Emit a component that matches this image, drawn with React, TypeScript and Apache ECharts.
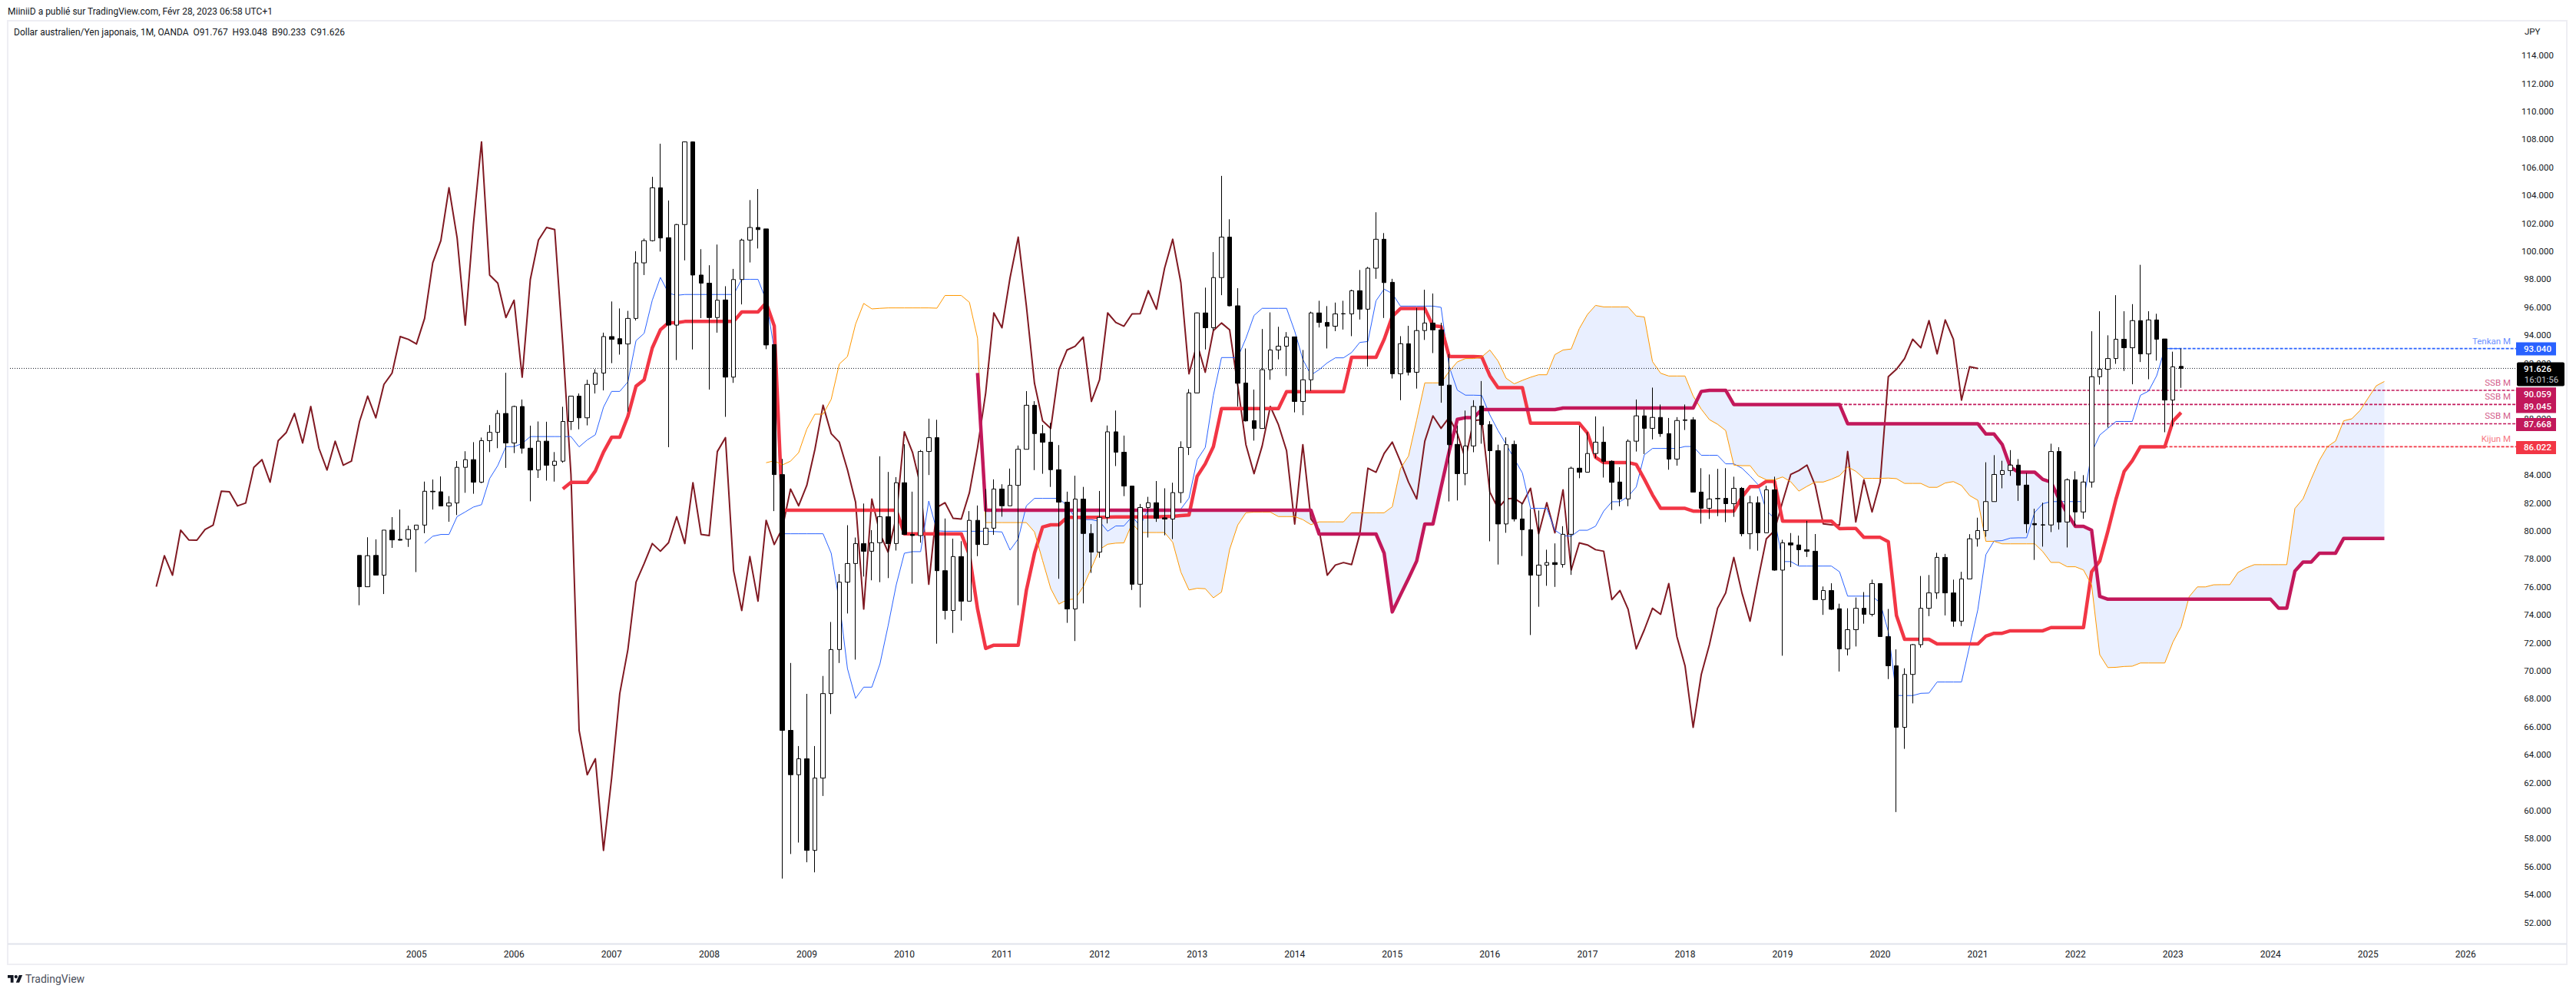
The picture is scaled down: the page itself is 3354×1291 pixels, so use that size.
import React, { useEffect, useRef } from "react";
import * as echarts from "echarts";

const FONT = "Roboto, 'Open Sans', sans-serif";
const TEXT = "#131722";

const headerText = "MiiniiD a publié sur TradingView.com, Févr 28, 2023 06:58 UTC+1";
const legendText = "Dollar australien/Yen japonais, 1M, OANDA  O91.767  H93.048  B90.233  C91.626";
const currencyText = "JPY";
const brandText = "TradingView";

// x is a month index: 0 = January 2005. Rows are [open, high, low, close].
const firstBar = -7;
const bars2004to2008: number[][] = [
  [78.25,78.25,74.69,76.01],[76.01,79.55,76.0,78.23],[78.25,79.4,76.84,76.84],[76.84,80.06,75.49,80.06],[80.06,80.99,78.79,79.36],
  [79.4,81.53,79.32,79.34],[79.41,80.38,78.86,80.1],[80.1,80.42,77.06,80.42],[80.42,83.53,79.84,82.84],[82.84,83.68,81.53,82.8],
  [82.8,83.9,81.79,81.79],[81.79,82.49,80.66,82.0],[82.0,85.0,81.14,84.55],[84.55,85.7,82.73,85.1],[85.1,86.35,82.66,83.49],
  [83.49,86.68,83.42,86.46],[86.46,87.57,85.64,87.05],[87.05,88.64,85.92,88.4],[88.4,91.31,84.51,86.29],[86.29,88.96,85.57,88.9],
  [88.9,89.4,85.53,85.92],[85.92,87.53,82.12,84.36],[84.36,87.83,83.79,86.42],[86.42,87.81,83.6,84.7],[84.7,85.64,83.53,84.99],
  [84.99,88.88,84.88,87.83],[87.83,89.64,87.22,89.64],[89.64,89.83,87.27,88.09],[88.09,90.81,87.55,90.48],[90.48,91.57,89.83,91.29],
  [91.29,94.18,90.05,93.9],[93.9,96.41,92.0,93.7],[93.75,95.91,92.61,93.37],[93.37,95.74,88.53,95.2],[95.2,100.0,95.05,99.17],
  [99.17,100.91,98.3,100.76],[100.76,105.32,100.7,104.54],[104.54,107.69,99.98,100.95],[100.97,103.63,85.99,94.72],[94.72,101.95,92.22,101.91],
  [101.91,107.85,99.35,107.82],[107.82,107.85,92.98,98.3],[98.3,100.15,95.22,97.72],[97.72,99.0,90.11,95.26],[95.26,100.48,94.18,96.5],
  [96.52,97.5,88.16,91.0],[91.0,98.74,90.59,97.98],
];
const bars2008to2012: number[][] = [
  [97.98,100.9,96.2,100.8],[100.8,103.66,99.2,101.7],[101.7,104.45,100.2,101.55],[101.6,101.6,93.0,93.3],[93.33,93.33,81.42,84.03],
  [84.03,85.15,55.14,65.74],[65.74,70.56,56.9,62.57],[62.57,64.62,57.72,63.71],[63.71,68.35,56.31,57.16],[57.16,64.62,55.59,62.33],
  [62.33,69.63,61.05,68.37],[68.37,73.49,66.91,71.52],[71.52,76.92,70.56,76.34],[76.34,80.41,74.1,77.67],[77.67,79.53,70.8,79.1],
  [79.1,81.96,76.74,78.55],[78.55,80.06,76.47,79.16],[79.16,85.34,76.34,81.02],[81.02,84.22,76.63,79.1],[79.1,83.85,78.6,83.45],
  [83.45,86.2,79.75,79.75],[79.75,82.81,76.23,79.67],[79.67,85.79,79.16,85.68],[85.68,88.03,84.0,86.67],[86.67,87.95,71.94,77.16],
  [77.16,80.89,73.67,74.31],[74.31,79.45,72.71,78.17],[78.17,79.27,73.59,74.98],[74.98,81.42,74.98,80.76],[80.76,81.82,78.2,79.03],
  [79.03,83.0,79.03,80.2],[80.2,83.69,79.72,83.0],[83.0,83.34,81.02,81.8],[81.8,84.46,81.8,83.26],[83.26,86.11,74.69,85.84],
  [85.84,90.0,85.84,88.99],[88.99,89.28,84.35,86.96],[86.96,87.58,84.09,86.35],[86.35,87.73,83.15,84.38],[84.38,86.14,76.58,82.06],
  [82.06,82.81,73.43,74.42],[74.42,83.95,72.13,82.28],[82.28,83.15,74.82,79.82],[79.82,80.49,77.0,78.49],[78.49,82.86,78.09,80.97],
];
const bars2012to2016: number[][] = [
  [80.97,87.54,80.54,87.09],[87.09,88.61,84.64,85.63],[85.63,86.82,82.49,83.21],[83.21,83.21,75.78,76.19],[76.19,81.93,74.53,81.68],
  [81.68,82.44,79.53,82.02],[82.02,83.57,80.65,80.9],[80.94,83.05,79.69,80.85],[80.85,83.45,79.42,82.74],[82.74,86.41,82.0,85.97],
  [85.97,90.14,85.43,89.87],[89.87,95.63,89.87,95.59],[95.59,97.4,92.98,94.53],[94.53,99.94,94.33,98.12],[98.12,105.39,96.86,101.01],
  [101.01,102.29,96.06,96.1],[96.1,97.36,88.9,90.56],[90.58,93.05,87.83,87.87],[87.89,90.11,86.46,87.33],[87.33,94.44,87.33,91.53],
  [91.53,95.63,90.81,92.94],[92.94,94.6,92.27,93.21],[93.21,94.22,91.08,93.86],[93.88,93.88,88.48,89.26],[89.26,92.94,88.28,90.81],
  [90.81,95.68,90.02,95.59],[95.59,96.46,94.55,94.91],[94.91,96.08,93.05,94.64],[94.64,96.33,94.29,95.52],[95.52,96.46,94.4,95.54],
  [95.52,97.25,93.93,97.18],[97.18,98.66,95.12,95.86],[95.86,98.88,91.75,98.79],[98.79,102.79,98.03,100.86],[100.86,101.3,95.23,97.76],
  [97.78,98.03,90.9,91.24],[91.24,93.93,89.35,93.39],[93.39,94.67,91.12,91.35],[91.35,95.95,90.18,94.33],[94.33,97.25,93.66,94.87],
  [94.87,96.98,92.72,94.38],[94.38,94.89,89.17,90.41],[90.43,92.65,82.11,86.17],[86.19,87.54,82.18,84.1],[84.1,88.61,83.27,86.08],
];
const bars2016to2020: number[][] = [
  [86.08,89.35,85.63,88.9],[88.93,90.72,86.24,87.6],[87.6,87.85,79.26,85.74],[85.74,86.17,77.6,80.5],[80.5,86.69,79.87,86.17],
  [86.19,86.46,80.68,80.86],[80.86,82.02,78.21,80.09],[80.09,81.57,72.56,76.84],[76.84,81.46,74.58,77.56],[77.56,78.66,76.08,77.74],
  [77.74,79.11,76.0,77.6],[77.6,80.34,77.38,79.76],[79.76,84.6,76.86,84.49],[84.49,87.52,83.77,84.2],[84.2,87.07,84.2,85.54],
  [85.54,88.19,85.21,86.35],[86.35,87.47,83.82,84.98],[84.98,85.05,81.5,83.48],[83.5,84.56,81.77,82.29],[82.29,86.55,81.77,86.42],
  [86.42,89.4,85.68,88.23],[88.23,88.68,85.5,87.34],[87.34,90.25,86.55,88.12],[88.12,89.04,86.73,86.96],[86.96,88.08,84.38,85.14],
  [85.14,88.14,84.67,87.9],[87.9,89.04,87.22,87.95],[87.95,88.14,82.78,82.78],[82.78,84.49,80.52,81.62],[81.62,84.04,80.86,82.29],
  [82.3,84.44,81.06,82.33],[82.33,84.49,80.63,81.95],[81.95,83.88,81.01,83.05],[83.05,83.14,79.62,79.8],[79.8,82.51,78.7,82.02],
  [82.02,82.47,78.59,79.87],[79.87,83.23,79.87,82.94],[82.94,83.88,77.16,77.2],[77.2,79.37,71.08,79.15],[79.15,79.85,77.42,79.0],
  [79.0,79.67,77.54,78.66],[78.66,80.72,78.14,78.55],[78.55,79.78,75.09,75.09],[75.09,76.03,74.0,75.74],[75.74,76.26,74.35,74.4],
];
const bars2019to2023: number[][] = [
  [74.44,74.8,69.95,71.57],[71.56,74.47,71.1,72.94],[72.94,75.24,71.74,74.47],[74.47,75.63,73.37,74.04],[74.04,76.52,73.89,76.24],
  [76.24,76.24,72.45,72.45],[72.45,74.42,69.41,70.36],[70.36,71.53,59.9,65.96],[65.96,70.18,64.42,69.74],[69.74,71.92,67.67,71.87],
  [71.87,76.78,71.66,74.47],[74.47,76.85,73.91,75.57],[75.57,78.44,75.14,78.11],[78.11,78.36,73.96,75.57],[75.57,76.52,73.15,73.55],
  [73.55,77.08,73.2,76.57],[76.57,79.77,76.57,79.44],[79.44,80.95,78.88,80.03],[80.03,84.91,79.59,82.1],[82.1,85.42,82.1,84.04],
  [84.04,85.02,83.05,84.32],[84.32,85.78,83.94,84.71],[84.71,85.14,82.15,83.28],[83.28,84.14,79.85,80.51],[80.53,81.59,77.93,80.44],
  [80.44,82.02,78.88,80.43],[80.43,86.24,79.92,85.68],[85.68,85.99,80.1,80.64],[80.64,83.76,78.82,83.66],[83.66,84.27,80.36,81.36],
  [81.36,83.99,80.87,83.5],[83.5,94.28,83.1,91.03],[91.03,95.71,90.46,91.56],[91.56,93.99,87.39,92.33],[92.33,96.86,91.95,93.71],
  [93.71,95.71,91.44,93.1],[93.1,96.22,90.49,95.04],[95.04,99.03,92.08,92.66],[92.66,95.71,90.85,95.09],[95.09,95.53,92.18,93.71],
  [93.73,93.73,87.06,89.36],[89.36,92.82,87.47,91.74],[91.767,93.048,90.233,91.626],
];

const firstTenkan = 1;
const tenkan = [
  79.12,79.62,79.75,79.75,81.03,81.36,81.71,81.88,83.75,84.68,
  86.03,86.03,86.25,86.75,86.75,86.75,86.75,86.75,86.75,86.01,
  86.51,86.88,88.85,89.98,89.98,90.66,93.61,94.13,96.5,98.13,
  97.0,96.85,96.91,96.91,96.91,96.91,96.91,96.91,96.91,97.99,
  97.99,97.99,96.5,93.0,79.8,79.8,79.8,79.8,79.8,79.8,
  78.41,74.95,70.16,68.03,68.83,68.83,70.5,73.22,76.15,78.41,
  78.52,78.52,82.14,80.01,79.98,79.98,79.98,79.98,79.98,79.98,
  79.96,79.93,78.63,79.43,81.8,82.33,82.33,82.33,82.33,81.8,
  80.95,80.81,80.81,80.68,79.98,80.36,80.36,81.02,80.37,81.57,
  81.57,81.57,81.57,81.57,82.35,85.09,85.97,89.7,92.4,92.4,
  92.4,93.77,95.41,95.92,95.92,95.92,95.92,94.29,92.27,91.15,
  91.53,92.02,92.38,92.38,92.76,93.48,93.55,96.46,97.29,96.98,
  96.08,96.08,96.08,96.08,96.08,95.99,91.75,90.07,89.71,89.71,
  89.69,88.3,87.18,86.2,85.16,84.15,81.62,81.62,81.62,80.05,
  79.67,79.62,80.05,80.05,80.34,81.42,82.09,82.09,82.47,83.14,
  85.45,85.9,85.9,85.9,85.9,86.04,86.04,85.41,85.41,85.41,
  84.8,84.8,84.49,83.93,83.3,81.46,80.9,77.81,77.81,77.49,
  77.49,77.49,77.49,77.49,77.08,75.34,75.34,75.34,75.34,74.86,
  72.8,68.24,68.23,68.23,68.39,68.41,69.2,69.2,69.2,69.2,
  71.79,74.35,78.31,79.28,79.31,79.49,79.51,79.51,81.33,81.95,
  82.1,82.1,82.1,82.1,82.1,85.6,86.86,87.34,87.83,87.83,
  87.83,89.7,90.0,91.1,93.04,93.04,93.04,
];

const firstKijun = 18;
const kijun = [
  83.01,83.47,83.47,
  83.47,84.29,85.64,86.7,86.7,88.2,90.35,90.81,93.09,94.39,
  94.89,94.89,94.98,94.98,94.98,94.98,94.98,94.98,94.98,95.66,
  95.66,95.66,96.32,94.66,81.48,81.48,81.48,81.48,81.48,81.48,
  81.48,81.48,81.48,81.48,81.48,81.48,81.48,81.48,81.48,79.8,
  79.8,79.8,79.8,79.8,79.8,79.8,79.8,78.28,74.42,71.6,
  71.83,71.83,71.83,71.83,75.75,78.41,80.28,80.44,80.44,80.97,
  80.97,80.97,80.97,80.97,80.99,81.0,81.0,81.0,81.0,81.0,
  81.0,81.03,81.05,81.1,81.14,83.9,84.8,86.03,88.75,88.75,
  88.75,88.75,88.75,88.75,88.75,88.75,89.96,89.96,89.96,89.96,
  89.96,89.96,89.96,89.96,92.42,92.42,92.42,92.42,93.7,95.34,
  95.9,95.9,95.9,95.9,94.67,94.62,92.47,92.47,92.47,92.47,
  92.45,91.1,90.25,90.25,90.25,90.25,87.7,87.7,87.7,87.7,
  87.7,87.7,87.7,87.0,85.27,84.89,84.89,84.89,84.89,84.76,
  83.7,82.58,81.62,81.62,81.62,81.62,81.42,81.42,81.42,81.42,
  81.42,81.42,82.43,83.17,83.17,83.55,83.55,80.7,80.7,80.7,
  80.7,80.7,80.7,80.7,80.17,80.18,80.18,79.54,79.54,79.54,
  79.23,73.96,72.25,72.25,72.25,72.25,71.92,71.92,71.92,71.92,
  71.92,71.92,72.48,72.68,72.68,72.86,72.86,72.86,72.86,72.86,
  73.09,73.09,73.09,73.09,73.09,77.08,77.85,79.98,82.28,84.25,
  85.02,86.02,86.022,86.022,86.022,87.85,88.47,
];

const firstSpanA = 43;
const spanA = [
  84.88,85.02,84.72,84.99,85.6,87.28,88.35,88.35,
  89.41,91.94,92.47,94.79,96.27,95.88,95.92,95.95,95.95,95.95,
  95.95,95.95,95.95,95.93,96.84,96.84,96.84,96.35,93.78,80.6,
  80.6,80.6,80.6,80.6,80.6,79.93,77.88,75.88,74.77,75.08,
  75.14,76.02,77.35,78.68,79.05,79.13,79.15,80.54,79.89,79.89,
  79.89,79.89,79.19,77.06,75.78,75.9,75.87,75.22,75.63,78.68,
  80.43,81.3,81.35,81.35,81.35,81.03,81.03,81.03,80.81,80.45,
  80.65,80.65,80.65,80.65,81.3,81.3,81.3,81.3,81.3,81.73,
  84.46,85.36,87.94,90.59,90.59,90.59,91.41,92.09,92.33,92.33,
  92.45,92.94,92.16,90.92,90.52,90.77,90.99,91.17,91.17,92.61,
  92.94,93.01,94.47,95.48,96.13,96.02,96.02,96.02,96.02,95.37,
  95.3,92.11,91.28,91.08,91.08,91.08,89.65,88.71,87.96,87.63,
  87.18,84.71,84.67,84.67,83.93,83.66,83.66,83.86,83.52,82.85,
  83.19,83.5,83.5,83.7,83.95,84.58,84.27,83.76,83.76,83.76,
  83.78,83.74,83.4,83.4,83.4,83.12,83.12,83.43,83.53,83.25,
  82.53,82.2,79.26,79.26,79.08,79.08,79.08,79.08,79.08,78.52,
  77.75,77.75,77.44,77.44,77.21,76.14,71.15,70.23,70.25,70.31,
  70.33,70.56,70.56,70.56,70.56,72.05,73.15,75.3,76.0,76.0,
  76.15,76.16,76.16,77.03,77.36,77.59,77.59,77.59,77.59,77.59,
  81.61,82.3,83.71,85.04,86.03,86.43,87.88,88.02,88.61,89.5,90.38,90.69,
];

const firstSpanB = 69;
const spanB = [
  91.3,
  81.48,81.48,81.48,81.48,81.48,81.48,81.48,81.48,81.48,81.48,81.48,81.48,81.48,81.48,
  81.48,81.48,81.48,81.48,81.48,81.48,81.48,81.48,81.48,81.48,81.48,81.48,81.48,81.48,
  81.48,81.48,81.48,81.48,81.48,81.48,81.48,81.48,81.48,81.48,81.48,81.48,81.48,
  79.78,79.78,79.78,79.78,79.78,79.78,79.78,79.78,
  78.41,74.21,75.42,76.61,77.85,80.49,80.49,83.12,85.7,87.98,88.1,88.1,
  88.68,88.68,88.68,88.68,88.68,88.68,88.68,88.68,88.68,88.68,
  88.79,88.79,88.79,88.79,88.79,88.79,88.79,88.79,88.79,88.79,88.79,88.79,88.79,88.79,88.79,88.79,88.79,
  89.98,90.059,90.059,90.059,
  89.045,89.045,89.045,89.045,89.045,89.045,89.045,89.045,89.045,89.045,89.045,89.045,89.045,89.045,
  87.668,87.668,87.668,87.668,87.668,87.668,87.668,87.668,87.668,87.668,87.668,87.668,87.668,87.668,87.668,87.668,87.668,
  86.93,86.93,86.19,84.58,84.2,84.2,84.2,83.69,83.5,82.28,81.25,80.33,80.33,80.05,75.32,
  75.12,75.12,75.12,75.12,75.12,75.12,75.12,75.12,75.12,75.12,75.12,75.12,75.12,75.12,75.12,75.12,75.12,75.12,75.12,75.12,75.12,
  74.48,74.48,77.13,77.78,77.78,78.41,78.41,78.41,
  79.47,79.47,79.47,79.47,79.47,79.47,
];

const lastPrice = 91.626;
const countdownText = "16:01:56";
const chikouShift = 25;

const levels = [
  { from: 215, value: 93.04, label: "Tenkan M", color: "#2962ff", faded: "#6a90ff", tagShift: 0.4 },
  { from: 159, value: 90.059, label: "SSB M", color: "#c2185b", faded: "#d4608c", tagShift: 4.7 },
  { from: 175, value: 89.045, label: "SSB M", color: "#c2185b", faded: "#d4608c", tagShift: 2.5 },
  { from: 192, value: 87.668, label: "SSB M", color: "#c2185b", faded: "#d4608c", tagShift: 1 },
  { from: 215, value: 86.022, label: "Kijun M", color: "#f23645", faded: "#f67883", tagShift: 1 },
];

const yearTicks = [0,12,24,36,48,60,72,84,96,108,120,132,144,156,168,180,192,204,216,228,240,252];

const xMin = -50.27;
const xMax = 258.2;

const bars = [...bars2004to2008, ...bars2008to2012, ...bars2012to2016, ...bars2016to2020, ...bars2019to2023];
const withX = (values: number[], first: number) => values.map((v, i) => [first + i, v]);

const lineSeries = (name: string, data: number[][], color: string, width: number, z: number, type: any = "solid") => ({
  name,
  type: "line",
  data,
  z,
  symbol: "none",
  showSymbol: false,
  silent: true,
  animation: false,
  lineStyle: { color, width, type, join: "round" },
});

const makeOption = () => ({
  animation: false,
  backgroundColor: "#ffffff",
  grid: { left: 10, width: 3266, top: 35.8, height: 1201.2, containLabel: false },
  xAxis: {
    type: "value",
    min: xMin,
    max: xMax,
    axisLine: { show: false },
    axisTick: { show: false },
    splitLine: { show: false },
    axisLabel: {
      customValues: yearTicks,
      formatter: (v: number) => String(2005 + Math.round(v / 12)),
      color: TEXT,
      fontFamily: FONT,
      fontSize: 12,
      margin: 5,
      verticalAlign: "middle",
    },
  },
  yAxis: {
    type: "value",
    position: "right",
    min: 50,
    max: 116,
    interval: 2,
    axisLine: { show: false },
    axisTick: { show: false },
    splitLine: { show: false },
    axisLabel: {
      formatter: (v: number) => (v < 52 || v > 114 ? "" : v.toFixed(3)),
      color: TEXT,
      fontFamily: FONT,
      fontSize: 11.5,
      align: "center",
      margin: 28,
    },
  },
  graphic: {
    elements: [
      { type: "rect", z: 20, shape: { x: 10, y: 27, width: 3332, height: 1228 }, style: { fill: "none", stroke: "#eeeef3", lineWidth: 2 } },
      { type: "line", z: 20, shape: { x1: 10, y1: 1228.5, x2: 3342, y2: 1228.5 }, style: { stroke: "#e0e3eb", lineWidth: 2 } },
      { type: "text", z: 20, x: 10, y: 15, style: { text: headerText, fill: TEXT, fontFamily: FONT, fontSize: 12, verticalAlign: "middle", textVerticalAlign: "middle" } },
      { type: "text", z: 20, x: 18, y: 41.5, style: { text: legendText, fill: TEXT, fontFamily: FONT, fontSize: 12, verticalAlign: "middle", textVerticalAlign: "middle" } },
      { type: "text", z: 20, x: 3287, y: 41, style: { text: currencyText, fill: TEXT, fontFamily: FONT, fontSize: 11.5, verticalAlign: "middle", textVerticalAlign: "middle" } },
      { type: "tvLogo", z: 20, x: 10, y: 1266.8, scaleX: 0.54, scaleY: 0.54, style: { fill: TEXT } },
      { type: "circle", z: 20, shape: { cx: 20.8, cy: 1271.1, r: 2.1 }, style: { fill: TEXT } },
      { type: "text", z: 20, x: 33, y: 1274, style: { text: brandText, fill: "#4a4f5c", fontFamily: FONT, fontSize: 14, verticalAlign: "middle", textVerticalAlign: "middle" } },
    ],
  },
  series: [
    {
      name: "Nuage",
      type: "custom",
      z: 1,
      silent: true,
      data: [[firstSpanB, spanB[0]]],
      encode: { x: 0, y: 1 },
      renderItem: (_: any, api: any) => {
        const points: number[][] = [];
        spanB.forEach((v, i) => {
          const x = firstSpanB + i;
          points.push(api.coord([x, spanA[x - firstSpanA]]));
        });
        for (let i = spanB.length - 1; i >= 0; i--) points.push(api.coord([firstSpanB + i, spanB[i]]));
        return { type: "polygon", shape: { points }, style: { fill: "rgba(41,98,255,0.1)" } };
      },
    },
    lineSeries("Dernier", [[xMin, lastPrice], [xMax, lastPrice]], TEXT, 1, 2, [1, 2]),
    ...levels.map((l) => lineSeries(l.label + " niveau", [[l.from, l.value], [xMax, l.value]], l.color, 1.6, 2, [4, 2])),
    lineSeries("Chikou", withX(bars.map((b) => b[3]), firstBar - chikouShift), "#801922", 2, 3),
    lineSeries("Tenkan", withX(tenkan, firstTenkan), "#2962ff", 1, 4),
    lineSeries("Kijun", withX(kijun, firstKijun), "#f23645", 4.5, 5),
    lineSeries("SSA", withX(spanA, firstSpanA), "#ff9800", 1, 6),
    lineSeries("SSB", withX(spanB, firstSpanB), "#c2185b", 4.5, 7),
    {
      name: "AUD/JPY",
      type: "candlestick",
      z: 8,
      silent: true,
      barWidth: 6,
      encode: { x: 0, y: [1, 2, 3, 4] },
      itemStyle: { color: "#ffffff", color0: "#000000", borderColor: "#000000", borderColor0: "#000000", borderWidth: 1 },
      data: bars.map((b, i) => [firstBar + i, b[0], b[3], b[2], b[1]]),
    },
    {
      name: "Étiquettes",
      type: "custom",
      z: 10,
      silent: true,
      clip: false,
      data: levels.map((l) => [xMax, l.value]),
      encode: { x: 0, y: 1 },
      renderItem: (params: any, api: any) => {
        const l = levels[params.dataIndex];
        const [px, py] = api.coord([xMax, l.value]);
        const cy = py + l.tagShift;
        return {
          type: "group",
          children: [
            { type: "rect", shape: { x: px, y: cy - 8.5, width: 52, height: 17 }, style: { fill: l.color } },
            { type: "text", style: { x: px + 28, y: cy, text: l.value.toFixed(3), fill: "#ffffff", fontFamily: FONT, fontSize: 11.5, fontWeight: 500, align: "center", textAlign: "center", verticalAlign: "middle", textVerticalAlign: "middle" } },
            { type: "text", style: { x: px - 7, y: py - 10, text: l.label, fill: l.faded, fontFamily: FONT, fontSize: 11.5, align: "right", textAlign: "right", verticalAlign: "middle", textVerticalAlign: "middle" } },
          ],
        };
      },
    },
    {
      name: "Dernier prix",
      type: "custom",
      z: 11,
      silent: true,
      clip: false,
      data: [[xMax, lastPrice]],
      encode: { x: 0, y: 1 },
      renderItem: (_: any, api: any) => {
        const [px, py] = api.coord([xMax, lastPrice]);
        return {
          type: "group",
          children: [
            { type: "rect", shape: { x: px + 1, y: py - 8, width: 62, height: 31, r: 2 }, style: { fill: "#000000" } },
            { type: "text", style: { x: px + 28, y: py + 1, text: lastPrice.toFixed(3), fill: "#ffffff", fontFamily: FONT, fontSize: 11.5, fontWeight: 500, align: "center", textAlign: "center", verticalAlign: "middle", textVerticalAlign: "middle" } },
            { type: "text", style: { x: px + 33, y: py + 15, text: countdownText, fill: "#c9cbd1", fontFamily: FONT, fontSize: 11.5, align: "center", textAlign: "center", verticalAlign: "middle", textVerticalAlign: "middle" } },
          ],
        };
      },
    },
  ],
});

echarts.graphic.registerShape(
  "tvLogo",
  echarts.graphic.extendPath("M14 22H7V11H0V4h14v18zM28 22h-8l7.5-18h8L28 22z" as any, {}) as any
);

export default function App() {
  const ref = useRef<HTMLDivElement>(null);
  useEffect(() => {
    document.body.style.margin = "0";
    const chart = echarts.init(ref.current!, undefined, { renderer: "svg", width: 3354, height: 1291 });
    chart.setOption(makeOption() as any);
    return () => chart.dispose();
  }, []);
  return <div ref={ref} style={{ position: "absolute", left: 0, top: 0, width: 3354, height: 1291, background: "#fff" }} />;
}
